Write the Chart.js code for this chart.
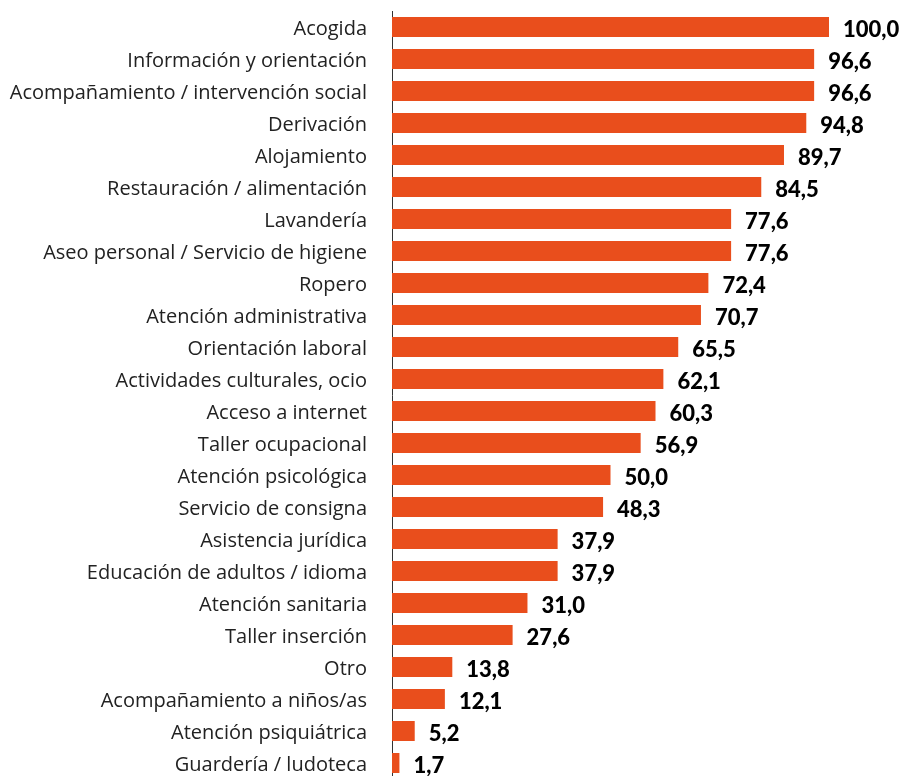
<!DOCTYPE html>
<html lang="es">
<head>
  <meta charset="UTF-8" />
  <title>Servicios</title>
  <style>
    html, body { margin: 0; padding: 0; background: #fff; overflow: hidden; }
  </style>
</head>
<body>
  <canvas id="myChart" width="911" height="780"></canvas>

  <script src="https://cdn.jsdelivr.net/npm/chart.js"></script>
  <script>
    const ctx = document.getElementById('myChart');

    const labels = [
      'Acogida',
      'Información y orientación',
      'Acompañamiento / intervención social',
      'Derivación',
      'Alojamiento',
      'Restauración / alimentación',
      'Lavandería',
      'Aseo personal / Servicio de higiene',
      'Ropero',
      'Atención administrativa',
      'Orientación laboral',
      'Actividades culturales, ocio',
      'Acceso a internet',
      'Taller ocupacional',
      'Atención psicológica',
      'Servicio de consigna',
      'Asistencia jurídica',
      'Educación de adultos / idioma',
      'Atención sanitaria',
      'Taller inserción',
      'Otro',
      'Acompañamiento a niños/as',
      'Atención psiquiátrica',
      'Guardería / ludoteca'
    ];
    const values = [100.0, 96.6, 96.6, 94.8, 89.7, 84.5, 77.6, 77.6, 72.4, 70.7, 65.5, 62.1,
                    60.3, 56.9, 50.0, 48.3, 37.9, 37.9, 31.0, 27.6, 13.8, 12.1, 5.2, 1.7];

    // value labels at the end of each bar
    const valueLabels = {
      id: 'valueLabels',
      afterDatasetsDraw(chart) {
        const c = chart.ctx;
        const meta = chart.getDatasetMeta(0);
        c.save();
        c.font = '900 22px Lato';
        c.fillStyle = '#000';
        c.textBaseline = 'middle';
        c.textAlign = 'left';
        meta.data.forEach((bar, i) => {
          c.fillText(values[i].toFixed(1).replace('.', ','), bar.x + 14, bar.y + 3);
        });
        c.restore();
      }
    };

    new Chart(ctx, {
      type: 'bar',
      data: {
        labels: labels,
        datasets: [{
          data: values,
          backgroundColor: '#E94E1C',
          borderWidth: 0,
          categoryPercentage: 0.625,
          barPercentage: 1.0
        }]
      },
      options: {
        indexAxis: 'y',
        responsive: false,
        animation: false,
        layout: { padding: { top: 11, right: 82, bottom: 1, left: 0 } },
        plugins: {
          legend: { display: false },
          tooltip: { enabled: false }
        },
        scales: {
          x: {
            display: false,
            min: 0,
            max: 100
          },
          y: {
            afterFit(scale) {
              scale.width = 392;
              scale.paddingTop = 0;
              scale.paddingBottom = 0;
            },
            grid: { display: false },
            border: { display: true, color: '#333', width: 1 },
            ticks: {
              color: '#222',
              padding: 17,
              labelOffset: 2,
              autoSkip: false,
              font: { family: 'Open Sans', size: 20, weight: '400' }
            }
          }
        }
      },
      plugins: [valueLabels]
    });
  </script>
</body>
</html>
